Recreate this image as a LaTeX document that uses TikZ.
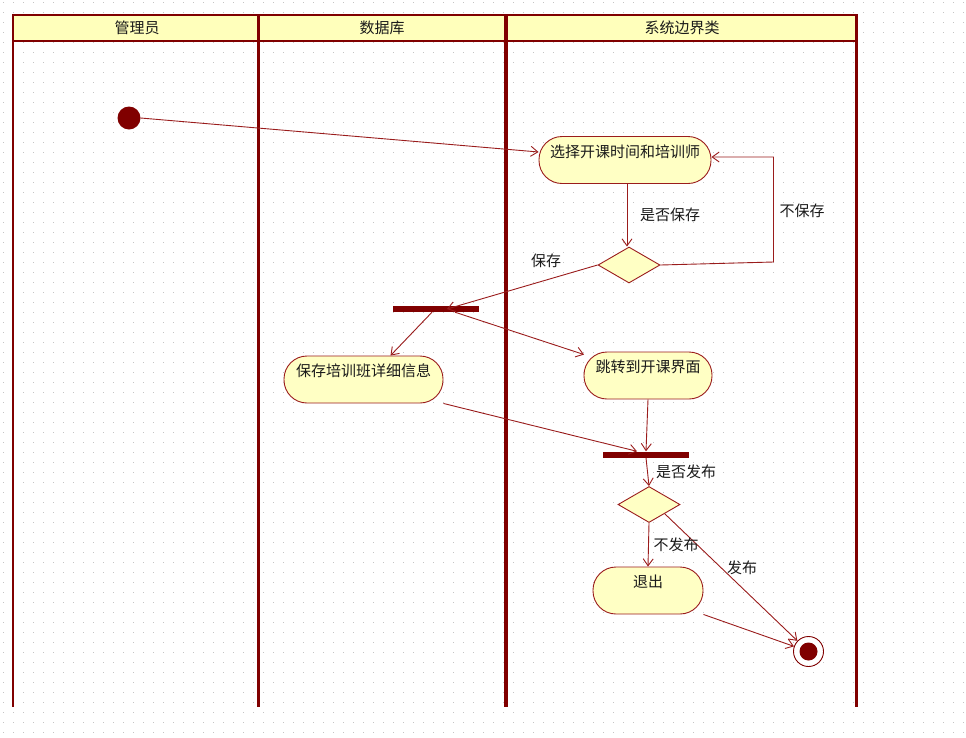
\documentclass[tikz,border=0pt]{standalone}
\usepackage{fontspec}
\newfontfamily\cjk{Noto Sans CJK SC}
\usetikzlibrary{arrows.meta,shapes.geometric}
\definecolor{umlred}{HTML}{800000}
\definecolor{edgered}{HTML}{9A1C1C}
\definecolor{actfill}{HTML}{FFFFC4}
\definecolor{headfill}{HTML}{FFFFBB}
\definecolor{griddot}{HTML}{C4C4C4}
\definecolor{inktext}{HTML}{1A1A1A}

\begin{document}
\begin{tikzpicture}[x=1pt,y=-1pt,
  font=\cjk\fontsize{15}{17}\selectfont, text=inktext,
  action/.style={draw=edgered, line width=0.9pt, fill=actfill,
    rounded corners=23pt, minimum height=47pt,
    text height=10.5pt, text depth=16.5pt, inner sep=3pt},
  decision/.style={diamond, draw=edgered, line width=0.9pt, fill=actfill,
    minimum width=62pt, minimum height=36pt, inner sep=0pt},
  syncbar/.style={fill=umlred, minimum width=86pt, minimum height=6pt, inner sep=0pt},
  flow/.style={draw=edgered, line width=0.9pt,
    -{Straight Barb[length=7pt,width=10pt,line width=0.9pt]}},
  lanehead/.style={inner sep=0pt},
  guard/.style={inner sep=0pt},
  laneline/.style={draw=umlred},
]
\useasboundingbox (0,0) rectangle (966,737);
\fill[white] (0,0) rectangle (966,737);

% dotted canvas grid
\foreach \gy in {2,12,...,732}
  \draw[griddot, line width=1pt, dash pattern=on 1pt off 9pt] (3,\gy) -- (966,\gy);

% swimlane frame
\fill[headfill] (13,15) rectangle (857,41);
\draw[laneline, line width=2pt] (12,15) -- (858,15);
\draw[laneline, line width=2pt] (12,41) -- (858,41);
\draw[laneline, line width=2pt] (13,15) -- (13,707);
\draw[laneline, line width=3.5pt] (258.5,15) -- (258.5,707);
\draw[laneline, line width=4.5pt] (506,15) -- (506,707);
\draw[laneline, line width=2.5pt] (856.7,15) -- (856.7,707);

\node[lanehead] (h1) at (137,28) {管理员};
\node[lanehead] (h2) at (382,28) {数据库};
\node[lanehead] (h3) at (682,28) {系统边界类};

% nodes
\node[circle, fill=umlred, minimum size=23pt, inner sep=0pt] (start) at (129,118) {};
\node[action, minimum width=172pt] (a1) at (625,160) {选择开课时间和培训师};
\node[decision] (d1) at (629,265) {};
\node[syncbar] (b1) at (436,309) {};
\node[action, minimum width=159pt] (a2) at (363.5,379.5) {保存培训班详细信息};
\node[action, minimum width=128pt] (a3) at (648,375.5) {跳转到开课界面};
\node[syncbar] (b2) at (646,454.5) {};
\node[decision] (d2) at (649,504.5) {};
\node[action, minimum width=110pt] (a4) at (648,590.5) {退出};
\node[circle, draw=umlred, line width=0.9pt, fill=white, minimum size=30pt, inner sep=0pt,
  path picture={\fill[umlred] (path picture bounding box.center) circle (9pt);}] (end) at (808.5,651.5) {};

% transitions
\draw[flow] (start.east) -- ([yshift=8pt]a1.west);
\draw[flow] ([xshift=2pt]a1.south) -- ([xshift=-2pt]d1.north);
\draw[flow] (d1.east) -- ++(113,-3) coordinate (loopc) |- ([yshift=3pt]a1.east);
\draw[flow] (d1.west) -- ([xshift=11pt]b1.center);
\draw[flow] ([xshift=-4pt]b1.south) -- ([xshift=27pt]a2.north);
\draw[flow] ([xshift=19pt]b1.south) -- ([xshift=-64pt,yshift=-3pt]a3.north);
\draw[flow] (a2.south east) -- ([xshift=-9pt]b2.north);
\draw[flow] (a3.south) -- (b2.north);
\draw[flow] (b2.south) -- (d2.north);
\draw[flow] (d2.south) -- (a4.north);
\draw[flow] (d2.south east) -- (end);
\draw[flow] (a4.south east) -- (end);

% guards
\node[guard] (g1) at (670,215) {是否保存};
\node[guard] (g2) at (802,211) {不保存};
\node[guard] (g3) at (546,261) {保存};
\node[guard] (g4) at (686,472) {是否发布};
\node[guard] (g5) at (676,545) {不发布};
\node[guard] (g6) at (742,568) {发布};
\end{tikzpicture}
\end{document}
